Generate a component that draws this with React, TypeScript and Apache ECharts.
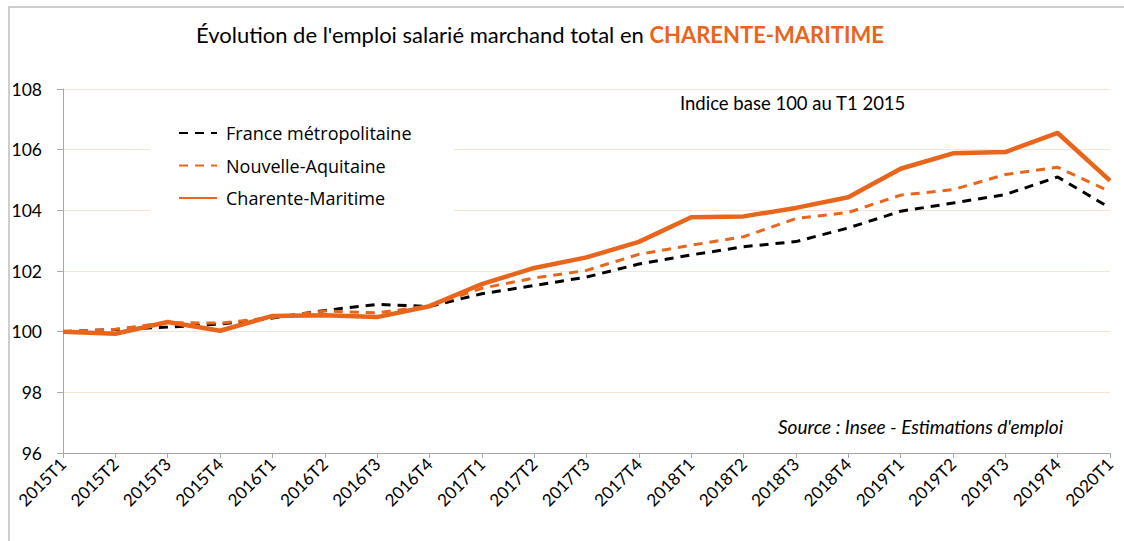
import React, { useEffect, useRef } from "react";
import * as echarts from "echarts";

const categories = [
  "2015T1", "2015T2", "2015T3", "2015T4",
  "2016T1", "2016T2", "2016T3", "2016T4",
  "2017T1", "2017T2", "2017T3", "2017T4",
  "2018T1", "2018T2", "2018T3", "2018T4",
  "2019T1", "2019T2", "2019T3", "2019T4",
  "2020T1",
];

const franceValues = [
  100, 100.07, 100.15, 100.25, 100.45, 100.7, 100.9, 100.83, 101.25, 101.52,
  101.8, 102.23, 102.53, 102.8, 102.97, 103.42, 103.97, 104.24, 104.52, 105.1, 104.08,
];

const nouvelleValues = [
  100, 100.08, 100.3, 100.28, 100.47, 100.68, 100.62, 100.85, 101.43, 101.77,
  102.02, 102.55, 102.85, 103.13, 103.73, 103.93, 104.5, 104.68, 105.18, 105.42, 104.62,
];

const charenteValues = [
  100, 99.93, 100.32, 100.03, 100.52, 100.54, 100.48, 100.84, 101.57, 102.1,
  102.45, 102.96, 103.77, 103.8, 104.08, 104.43, 105.37, 105.88, 105.92, 106.55, 104.98,
];

const seriesNames = ["France métropolitaine", "Nouvelle-Aquitaine", "Charente-Maritime"];

const ORANGE = "#E8651B";
const FONT = "Lato, 'Open Sans', sans-serif";
const LEGEND_FONT = "'Open Sans', Lato, sans-serif";

export default function App() {
  const ref = useRef<HTMLDivElement>(null);

  useEffect(() => {
    if (!ref.current) return;
    const chart = echarts.init(ref.current, undefined, { renderer: "svg" });
    chart.setOption({
      animation: false,
      backgroundColor: "#ffffff",
      textStyle: { fontFamily: FONT },
      title: {
        left: 191,
        top: 18,
        text: "{a|Évolution de l'emploi salarié marchand total en }{b|CHARENTE-MARITIME}",
        textStyle: {
          fontWeight: "normal",
          rich: {
            a: { fontSize: 22, color: "#000", fontWeight: "normal", fontFamily: FONT },
            b: { fontSize: 22, color: ORANGE, fontWeight: "bold", fontFamily: FONT },
          },
        },
      },
      legend: {
        orient: "vertical",
        left: 150,
        top: 115,
        padding: [8, 42, 8, 28],
        backgroundColor: "#ffffff",
        itemWidth: 38,
        itemHeight: 14,
        itemGap: 12.5,
        itemStyle: { opacity: 0 },
        data: seriesNames,
        textStyle: {
          fontSize: 18,
          color: "#000",
          fontFamily: LEGEND_FONT,
          lineHeight: 20,
          padding: [0, 0, 0, 4],
        },
      },
      grid: { left: 63, right: 14, top: 89, bottom: 88 },
      xAxis: {
        type: "category",
        data: categories,
        boundaryGap: false,
        axisLine: { lineStyle: { color: "#a6a6a6", width: 1 } },
        axisTick: { show: true, alignWithLabel: true, interval: 0, length: 5, lineStyle: { color: "#a6a6a6" } },
        axisLabel: { interval: 0, rotate: 45, fontSize: 17, color: "#000", margin: 8, fontFamily: FONT },
      },
      yAxis: {
        type: "value",
        min: 96,
        max: 108,
        interval: 2,
        axisLine: { show: true, lineStyle: { color: "#a6a6a6", width: 1 } },
        axisTick: { show: true, length: 6, lineStyle: { color: "#a6a6a6" } },
        axisLabel: { fontSize: 17.5, color: "#000", margin: 21, fontFamily: FONT },
        splitLine: { lineStyle: { color: "#FBE3D1", width: 1 } },
      },
      graphic: [
        {
          type: "rect",
          silent: true,
          shape: { x: 9, y: 7, width: 1300, height: 700 },
          style: { fill: "none", stroke: "#bfbfbf", lineWidth: 1.5 },
        },
        {
          type: "rect",
          shape: { x: 666, y: 82, width: 304, height: 40 },
          style: { fill: "#ffffff" },
        },
        {
          type: "text",
          x: 680,
          y: 93,
          style: { text: "Indice base 100 au T1 2015", fontSize: 18.5, fill: "#000", fontFamily: FONT },
        },
        {
          type: "text",
          x: 778,
          y: 417,
          style: {
            text: "Source : Insee - Estimations d'emploi",
            fontSize: 19,
            fontStyle: "italic",
            fill: "#000",
            fontFamily: FONT,
          },
        },
      ],
      series: [
        {
          name: seriesNames[0],
          type: "line",
          data: franceValues,
          symbol: "none",
          lineStyle: { color: "#000000", width: 3, type: [9, 7] },
          itemStyle: { color: "#000000" },
          z: 2,
        },
        {
          name: seriesNames[1],
          type: "line",
          data: nouvelleValues,
          symbol: "none",
          lineStyle: { color: ORANGE, width: 3, type: [9, 7] },
          itemStyle: { color: ORANGE },
          z: 3,
        },
        {
          name: seriesNames[2],
          type: "line",
          data: charenteValues,
          symbol: "none",
          lineStyle: { color: ORANGE, width: 4.5 },
          itemStyle: { color: ORANGE },
          z: 4,
        },
      ],
    });
    return () => chart.dispose();
  }, []);

  return (
    <div
      ref={ref}
      style={{ position: "fixed", left: 0, top: 0, width: 1124, height: 541 }}
    />
  );
}
